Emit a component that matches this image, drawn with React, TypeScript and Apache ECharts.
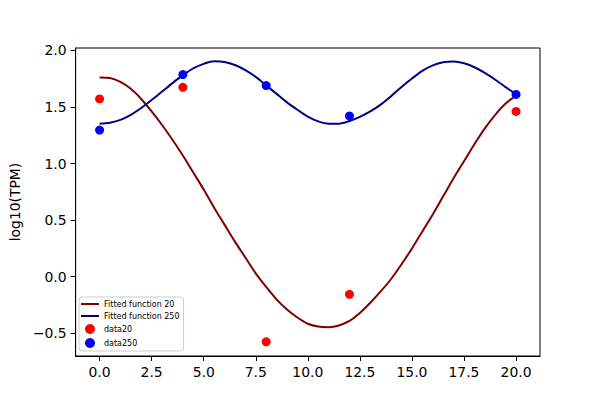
import React, { useEffect, useRef } from "react";
import * as echarts from "echarts";

const curveX = [
  0, 0.5, 1, 1.5, 2, 2.5, 3, 3.5, 4, 4.5, 5, 5.5, 6, 6.5, 7, 7.5, 8, 8.5, 9, 9.5, 10,
  10.5, 11, 11.5, 12, 12.5, 13, 13.5, 14, 14.5, 15, 15.5, 16, 16.5, 17, 17.5, 18, 18.5, 19, 19.5, 20,
];
const fit20 = [
  1.76, 1.755, 1.72, 1.66, 1.57, 1.46, 1.34, 1.21, 1.07, 0.92, 0.77, 0.61, 0.46, 0.31, 0.17, 0.03, -0.09, -0.2, -0.29, -0.36, -0.415,
  -0.44, -0.445, -0.43, -0.39, -0.32, -0.23, -0.13, -0.02, 0.11, 0.25, 0.4, 0.55, 0.71, 0.87, 1.02, 1.17, 1.31, 1.43, 1.53, 1.6,
];
const fit250 = [
  1.35, 1.36, 1.385, 1.43, 1.49, 1.56, 1.635, 1.71, 1.78, 1.84, 1.88, 1.903, 1.897, 1.87, 1.825, 1.765, 1.69, 1.615, 1.54, 1.475, 1.415,
  1.372, 1.352, 1.352, 1.375, 1.412, 1.46, 1.52, 1.595, 1.675, 1.75, 1.818, 1.866, 1.894, 1.9, 1.885, 1.85, 1.8, 1.74, 1.675, 1.61,
];
const dataX = [0, 4, 8, 12, 20];
const data20 = [1.57, 1.673, -0.575, -0.155, 1.46];
const data250 = [1.295, 1.785, 1.688, 1.42, 1.61];
const xTicks = [0, 2.5, 5, 7.5, 10, 12.5, 15, 17.5, 20];
const yTicks = [-0.5, 0, 0.5, 1, 1.5, 2];

const FONT = "DejaVu Sans";
const fmt = (v: number) => v.toFixed(1).replace("-", "\u2212");
const LINE_ICON = "path://M0,0H18V2H0Z";

export default function App() {
  const ref = useRef<HTMLDivElement>(null);
  useEffect(() => {
    if (!ref.current) return;
    const chart = echarts.init(ref.current, null, { renderer: "svg" });
    const pair = (xs: number[], ys: number[]) => xs.map((x, i) => [x, ys[i]]);
    chart.setOption({
      animation: false,
      backgroundColor: "#ffffff",
      textStyle: { fontFamily: FONT },
      grid: {
        left: 75,
        right: 60,
        top: 48,
        bottom: 44,
        show: true,
        borderColor: "#000000",
        borderWidth: 1,
        backgroundColor: "transparent",
      },
      legend: {
        orient: "vertical",
        left: 79,
        top: 297,
        padding: [3, 4, 3, 2],
        itemGap: 4,
        itemWidth: 18,
        itemHeight: 10,
        backgroundColor: "#ffffff",
        borderColor: "#cccccc",
        borderWidth: 1,
        borderRadius: 3,
        textStyle: { fontFamily: FONT, fontSize: 8, color: "#000000" },
        data: [
          { name: "Fitted function 20", icon: LINE_ICON, itemStyle: { color: "#800000" } },
          { name: "Fitted function 250", icon: LINE_ICON, itemStyle: { color: "#000080" } },
          { name: "data20", icon: "circle" },
          { name: "data250", icon: "circle" },
        ],
      },
      xAxis: {
        type: "value",
        min: -1.15,
        max: 21.15,
        axisLine: { show: true, onZero: false, lineStyle: { color: "#000000", width: 1 } },
        axisTick: { show: true, length: 5, customValues: xTicks, lineStyle: { color: "#000000" } },
        axisLabel: {
          customValues: xTicks,
          formatter: (v: number) => fmt(v),
          fontFamily: FONT,
          fontSize: 13.9,
          color: "#000000",
          margin: 9,
        },
        splitLine: { show: false },
      },
      yAxis: {
        type: "value",
        min: -0.7,
        max: 2.02,
        name: "log10(TPM)",
        nameLocation: "middle",
        nameGap: 50,
        nameTextStyle: { fontFamily: FONT, fontSize: 13.9, color: "#000000" },
        axisLine: { show: true, onZero: false, lineStyle: { color: "#000000", width: 1 } },
        axisTick: { show: true, length: 5, customValues: yTicks, lineStyle: { color: "#000000" } },
        axisLabel: {
          customValues: yTicks,
          formatter: (v: number) => fmt(v),
          fontFamily: FONT,
          fontSize: 13.9,
          color: "#000000",
          margin: 9,
        },
        splitLine: { show: false },
      },
      series: [
        {
          name: "Fitted function 20",
          type: "line",
          data: pair(curveX, fit20),
          smooth: 0.3,
          symbol: "none",
          showSymbol: false,
          lineStyle: { color: "#800000", width: 2 },
          itemStyle: { color: "#800000" },
          z: 2,
        },
        {
          name: "Fitted function 250",
          type: "line",
          data: pair(curveX, fit250),
          smooth: 0.3,
          symbol: "none",
          showSymbol: false,
          lineStyle: { color: "#000080", width: 2 },
          itemStyle: { color: "#000080" },
          z: 2,
        },
        {
          name: "data20",
          type: "scatter",
          data: pair(dataX, data20),
          symbol: "circle",
          symbolSize: 9,
          itemStyle: { color: "#ff0000", opacity: 1 },
          z: 3,
        },
        {
          name: "data250",
          type: "scatter",
          data: pair(dataX, data250),
          symbol: "circle",
          symbolSize: 9,
          itemStyle: { color: "#0000ff", opacity: 1 },
          z: 3,
        },
      ],
    });
    return () => chart.dispose();
  }, []);
  return (
    <div
      ref={ref}
      style={{ position: "fixed", left: 0, top: 0, width: 600, height: 400, background: "#ffffff" }}
    />
  );
}
